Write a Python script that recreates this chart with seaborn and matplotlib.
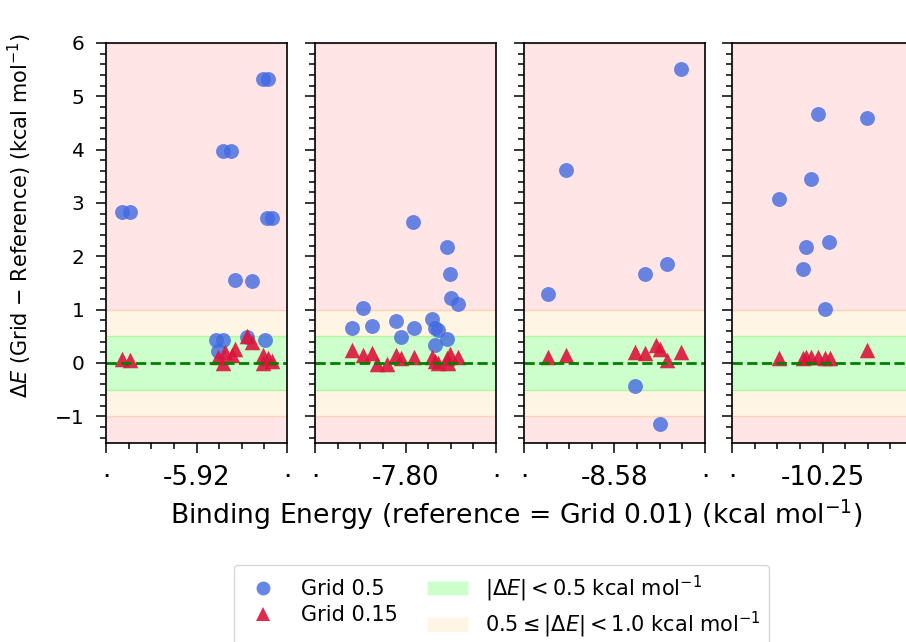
import numpy as np
import pandas as pd
import matplotlib
matplotlib.use("Agg")
import matplotlib.pyplot as plt
import seaborn as sns
from matplotlib.lines import Line2D
from matplotlib.patches import Patch
from matplotlib.ticker import FixedLocator, MultipleLocator

# ---------------- data ----------------
centers = [-5.92, -7.80, -8.58, -10.25]
center_labels = ["-5.92", "-7.80", "-8.58", "-10.25"]

p1_g05_x = [-5.772, -5.761, -5.862, -5.844, -6.085, -6.068, -5.765, -5.754, -5.835, -5.797, -5.876, -5.861, -5.808, -5.769, -5.873]
p1_g05_dE = [5.32, 5.32, 3.97, 3.97, 2.84, 2.84, 2.71, 2.71, 1.56, 1.54, 0.44, 0.44, 0.48, 0.44, 0.23]
p1_g015_x = [-6.085, -6.068, -5.872, -5.862, -5.857, -5.842, -5.834, -5.809, -5.797, -5.772, -5.761, -5.754, -5.772]
p1_g015_dE = [0.07, 0.05, 0.12, 0.00, 0.21, 0.15, 0.27, 0.50, 0.40, 0.15, 0.09, 0.03, 0.00]

p2_g05_x = [-7.783, -7.708, -7.702, -7.700, -7.683, -7.893, -7.919, -7.873, -7.822, -7.810, -7.782, -7.741, -7.735, -7.729, -7.709, -7.734]
p2_g05_dE = [2.65, 2.18, 1.67, 1.21, 1.10, 1.04, 0.65, 0.70, 0.79, 0.48, 0.66, 0.83, 0.66, 0.62, 0.45, 0.34]
p2_g015_x = [-7.919, -7.893, -7.873, -7.863, -7.840, -7.822, -7.810, -7.782, -7.741, -7.735, -7.729, -7.709, -7.702, -7.683, -7.707]
p2_g015_dE = [0.24, 0.15, 0.19, -0.01, -0.01, 0.15, 0.09, 0.11, 0.12, 0.03, 0.00, 0.09, 0.17, 0.12, 0.00]

p3_g05_x = [-8.434, -8.688, -8.464, -8.512, -8.727, -8.535, -8.480]
p3_g05_dE = [5.52, 3.62, 1.86, 1.66, 1.29, -0.43, -1.14]
p3_g015_x = [-8.727, -8.688, -8.535, -8.512, -8.488, -8.480, -8.464, -8.434]
p3_g015_dE = [0.12, 0.15, 0.21, 0.18, 0.34, 0.26, 0.06, 0.21]

p4_g05_x = [-10.260, -10.152, -10.276, -10.346, -10.235, -10.286, -10.293, -10.244]
p4_g05_dE = [4.66, 4.59, 3.45, 3.08, 2.27, 2.175, 1.76, 1.01]
p4_g015_x = [-10.346, -10.293, -10.286, -10.276, -10.260, -10.245, -10.234, -10.152]
p4_g015_dE = [0.09, 0.09, 0.11, 0.11, 0.12, 0.09, 0.09, 0.24]

series_names = ["Grid 0.5", "Grid 0.15"]

panels = [
    (p1_g05_x, p1_g05_dE, p1_g015_x, p1_g015_dE),
    (p2_g05_x, p2_g05_dE, p2_g015_x, p2_g015_dE),
    (p3_g05_x, p3_g05_dE, p3_g015_x, p3_g015_dE),
    (p4_g05_x, p4_g05_dE, p4_g015_x, p4_g015_dE),
]

rows = []
for i, (ax_, ay_, bx_, by_) in enumerate(panels):
    for x, y in zip(ax_, ay_):
        rows.append((i, x, y, series_names[0]))
    for x, y in zip(bx_, by_):
        rows.append((i, x, y, series_names[1]))
df = pd.DataFrame(rows, columns=["panel", "x", "dE", "method"])

# ---------------- style ----------------
sns.set_theme(style="ticks")
plt.rcParams["font.family"] = ["DejaVu Sans"]
plt.rcParams["axes.edgecolor"] = "black"
plt.rcParams["xtick.color"] = "black"
plt.rcParams["ytick.color"] = "black"
plt.rcParams["text.color"] = "black"
plt.rcParams["axes.labelcolor"] = "black"
plt.rcParams["axes.linewidth"] = 1.2

W, H = 906, 642
fig = plt.figure(figsize=(W / 100, H / 100), dpi=100)

lefts = [106, 315, 524, 732]
pw, ph = 181, 400
bottom = H - 443

half = 0.2
blue, red = "royalblue", "crimson"
green_band, orange_band = "lime", "orange"

for i, left in enumerate(lefts):
    ax = fig.add_axes([left / W, bottom / H, pw / W, ph / H])
    ax.set_facecolor("white")
    # bands
    ax.axhspan(1.0, 6.0, color="red", alpha=0.1, zorder=0)
    ax.axhspan(-1.5, -1.0, color="red", alpha=0.1, zorder=0)
    ax.axhspan(0.5, 1.0, color=orange_band, alpha=0.1, zorder=0)
    ax.axhspan(-1.0, -0.5, color=orange_band, alpha=0.1, zorder=0)
    ax.axhspan(-0.5, 0.5, color=green_band, alpha=0.2, zorder=0)

    sub = df[df["panel"] == i]
    sns.scatterplot(data=sub[sub["method"] == "Grid 0.5"], x="x", y="dE",
                    color=blue, marker="o", s=115, alpha=0.8, linewidth=0,
                    ax=ax, legend=False)
    sns.scatterplot(data=sub[sub["method"] == "Grid 0.15"], x="x", y="dE",
                    color=red, marker="^", s=125, alpha=0.9, linewidth=0,
                    ax=ax, legend=False)
    ax.axhline(0, color="green", ls="--", lw=2)

    c = centers[i]
    ax.set_xlim(c - half, c + half)
    ax.set_ylim(-1.5, 6)
    ax.xaxis.set_major_locator(FixedLocator([c - half, c, c + half]))
    ax.set_xticklabels(["\u00b7", center_labels[i], "\u00b7"])
    ax.xaxis.set_minor_locator(FixedLocator([c + k * 0.05 for k in range(-4, 5)]))
    ax.yaxis.set_major_locator(MultipleLocator(1))
    ax.yaxis.set_minor_locator(MultipleLocator(0.2))
    ax.tick_params(which="major", length=7.5, width=1.1, pad=8)
    ax.tick_params(which="minor", length=4.3, width=1.1)
    ax.tick_params(axis="x", labelsize=18.8)
    ax.tick_params(axis="y", labelsize=14.5)
    if i > 0:
        ax.tick_params(axis="y", labelleft=False)
    ax.set_xlabel("")
    ax.set_ylabel("")
    for s in ax.spines.values():
        s.set_visible(True)
        s.set_color("black")
        s.set_linewidth(1.2)

fig.text(516 / W, 1 - 515 / H, "Binding Energy (reference = Grid 0.01) (kcal mol$^{-1}$)",
         ha="center", va="center", fontsize=19.2)
fig.text(20 / W, 1 - 216 / H, r"$\Delta E$ (Grid $-$ Reference) (kcal mol$^{-1}$)",
         ha="center", va="center", rotation=90, fontsize=15)

handles = [
    Line2D([], [], ls="", marker="o", color=blue, alpha=0.8, markersize=10, markeredgewidth=0),
    Line2D([], [], ls="", marker="^", color=red, alpha=0.9, markersize=10, markeredgewidth=0),
    Patch(facecolor=green_band, alpha=0.2),
    Patch(facecolor=orange_band, alpha=0.1),
]
labels = [
    "Grid 0.5",
    "Grid 0.15",
    r"$|\Delta E| < 0.5$ kcal mol$^{-1}$",
    r"$0.5 \leq |\Delta E| < 1.0$ kcal mol$^{-1}$",
]
fig.legend(handles, labels, ncol=2, loc="upper left",
           bbox_to_anchor=(234 / W, 1 - 565 / H), borderaxespad=0,
           fontsize=15, columnspacing=1.4, labelspacing=0.3, frameon=True)

fig.savefig("out.png", dpi=100)
